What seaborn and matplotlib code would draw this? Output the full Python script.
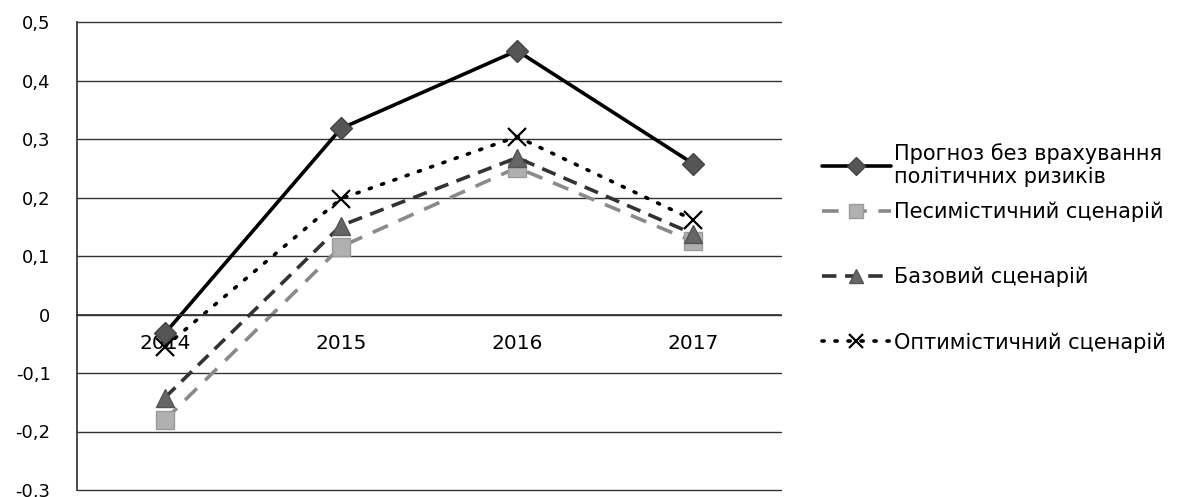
import matplotlib
matplotlib.use("Agg")
import matplotlib.pyplot as plt
import seaborn as sns
import pandas as pd
from matplotlib.ticker import FuncFormatter

years = ["2014", "2015", "2016", "2017"]
no_risk = [-0.032, 0.318, 0.451, 0.258]
pessimistic = [-0.180, 0.116, 0.251, 0.125]
base = [-0.142, 0.152, 0.268, 0.138]
optimistic = [-0.055, 0.198, 0.304, 0.162]
labels = ["Прогноз без врахування\nполітичних ризиків",
          "Песимістичний сценарій",
          "Базовий сценарій",
          "Оптимістичний сценарій"]
y_ticks = [-0.3, -0.2, -0.1, 0, 0.1, 0.2, 0.3, 0.4, 0.5]

sns.set_theme(style="white")
plt.rcParams['font.family'] = ['DejaVu Sans']
plt.rcParams['text.color'] = 'black'

W, H = 1183, 497
fig = plt.figure(figsize=(W / 100, H / 100), dpi=100)
ax = fig.add_axes([77 / W, 1 - 490 / H, (781 - 77) / W, (490 - 22) / H])

styles = [
    dict(color="black", linestyle="-", marker="D", markersize=11, mfc="#555555", mec="#444444", lw=2.6),
    dict(color="#8a8a8a", linestyle=(0, (4.6, 3.2)), marker="s", markersize=13, mfc="#b0b0b0", mec="#9a9a9a", lw=2.6),
    dict(color="#333333", linestyle=(0, (4.0, 2.4)), marker="^", markersize=13, mfc="#666666", mec="#555555", lw=2.6),
    dict(color="black", linestyle=(0, (0.6, 3.0)), marker="x", markersize=13, mfc="black", mec="black", mew=1.6, lw=2.6),
]
series = [no_risk, pessimistic, base, optimistic]
for vals, lab, st in zip(series, labels, styles):
    df = pd.DataFrame({"year": years, "value": vals})
    sns.lineplot(data=df, x="year", y="value", ax=ax, label=lab,
                 color=st["color"], linestyle=st["linestyle"], lw=st["lw"],
                 marker=st["marker"], markersize=st["markersize"],
                 markerfacecolor=st["mfc"], markeredgecolor=st["mec"],
                 markeredgewidth=st.get("mew", 1.0), sort=False,
                 dash_capstyle="round" if st["marker"] == "x" else "butt")

ax.set_xlim(-0.5, 3.5)
ax.set_ylim(-0.3, 0.5)
ax.set_yticks(y_ticks)
ax.yaxis.set_major_formatter(FuncFormatter(lambda v, p: "0" if abs(v) < 1e-9 else f"{v:.1f}".replace(".", ",")))
ax.yaxis.grid(True, color="#333333", lw=1.0)
ax.set_axisbelow(True)
ax.spines['top'].set_visible(False)
ax.spines['right'].set_visible(False)
ax.spines['left'].set_color("#333333")
ax.spines['bottom'].set_position(('data', 0))
ax.spines['bottom'].set_color("#333333")
ax.tick_params(axis='both', length=0, colors="black")
ax.tick_params(axis='y', labelsize=13, pad=19)
ax.tick_params(axis='x', labelsize=14.5, pad=14)
ax.set_xlabel("")
ax.set_ylabel("")
for gl in ax.get_ygridlines():
    gl.set_clip_on(False)

handles, labs = ax.get_legend_handles_labels()
ax.get_legend().remove()
common = dict(frameon=False, fontsize=15, handlelength=3.3, handletextpad=0.15,
              borderpad=0, borderaxespad=0, bbox_transform=fig.transFigure,
              markerscale=0.8, labelcolor="black")
leg1 = fig.legend(handles[:1], labs[:1], loc="center left",
                  bbox_to_anchor=(822 / W, 1 - 165 / H), **common)
leg2 = fig.legend(handles[1:], labs[1:], loc="center left",
                  bbox_to_anchor=(822 / W, 1 - 277 / H), labelspacing=2.15, **common)

fig.savefig("out.png", dpi=100)
